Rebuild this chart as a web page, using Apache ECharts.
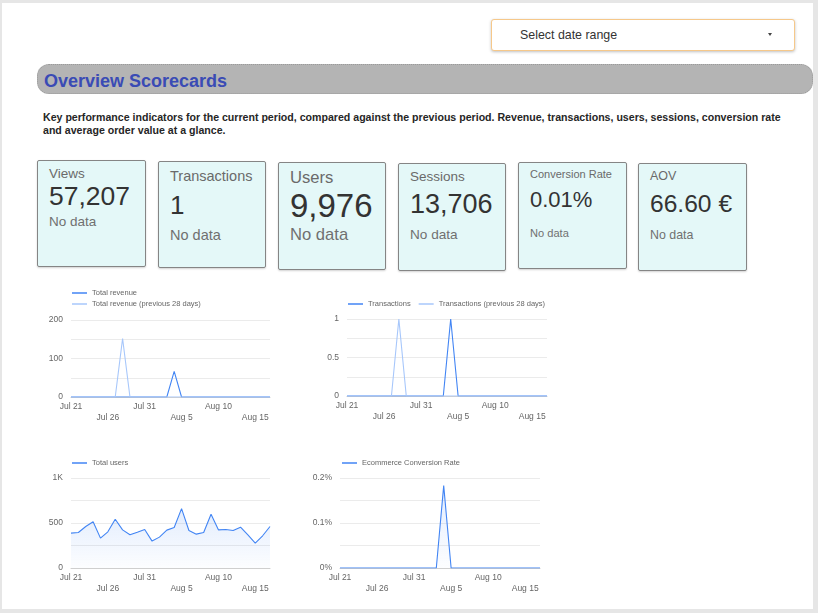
<!DOCTYPE html>
<html><head><meta charset="utf-8">
<script src="https://cdn.jsdelivr.net/npm/echarts@6/dist/echarts.min.js"></script>
<style>
html,body{margin:0;padding:0;width:818px;height:613px;overflow:hidden;background:#e6e6e6;font-family:'Liberation Sans',Arial,sans-serif;}
.abs{position:absolute;}
#page{left:2px;top:3px;width:811px;height:606px;background:#fff;}
#picker{left:491px;top:19px;width:302px;height:30px;border:1px solid #f6c88a;border-radius:3px;background:#fff;box-shadow:0 1px 3px rgba(0,0,0,0.25);}
#picker span{position:absolute;left:28px;top:8px;font-size:12.4px;color:#333;line-height:14px;}
#arrow{left:276px;top:13px;width:0;height:0;border-left:2.5px solid transparent;border-right:2.5px solid transparent;border-top:3px solid #444;}
#hdr{left:37px;top:64px;width:774px;height:28px;background:#b4b4b4;border:1px dotted #9a9a9a;border-radius:12px;}
#hdr span{position:absolute;left:6px;top:7px;font-size:18px;font-weight:bold;color:#3a4bb5;line-height:18px;}
#desc{left:43px;top:111px;font-size:10.6px;font-weight:bold;color:#262626;line-height:13px;white-space:nowrap;}
.card{background:#e4f8f8;border:1px solid #858585;border-radius:2px;box-shadow:0 1px 2px rgba(0,0,0,0.18);}
.ct{position:absolute;white-space:nowrap;}
.chart{position:absolute;}
</style></head><body>
<div id="page" class="abs"></div>
<div id="picker" class="abs"><span>Select date range</span><div id="arrow" class="abs"></div></div>
<div id="hdr" class="abs"><span>Overview Scorecards</span></div>
<div id="desc" class="abs">Key performance indicators for the current period, compared against the previous period. Revenue, transactions, users, sessions, conversion rate<br>and average order value at a glance.</div>
<div id="cards"></div>
<div id="c1" class="chart" style="left:30px;top:283px;width:250px;height:150px;"></div>
<div id="c2" class="chart" style="left:310px;top:283px;width:250px;height:150px;"></div>
<div id="c3" class="chart" style="left:30px;top:450px;width:250px;height:150px;"></div>
<div id="c4" class="chart" style="left:300px;top:450px;width:250px;height:150px;"></div>
<script>
// ---- data ----
const cardTitles = ['Views', 'Transactions', 'Users', 'Sessions', 'Conversion Rate', 'AOV'];
const cardValues = ['57,207', '1', '9,976', '13,706', '0.01%', '66.60 €'];
const cardNotes = ['No data', 'No data', 'No data', 'No data', 'No data', 'No data'];

const dates = ['Jul 21','Jul 22','Jul 23','Jul 24','Jul 25','Jul 26','Jul 27','Jul 28','Jul 29','Jul 30',
  'Jul 31','Aug 1','Aug 2','Aug 3','Aug 4','Aug 5','Aug 6','Aug 7','Aug 8','Aug 9',
  'Aug 10','Aug 11','Aug 12','Aug 13','Aug 14','Aug 15','Aug 16','Aug 17'];
const revenue = [0,0,0,0,0,0,0,0,0,0,0,0,0,0,66.6,0,0,0,0,0,0,0,0,0,0,0,0,0];
const revenuePrev = [0,0,0,0,0,0,0,152,0,0,0,0,0,0,0,0,0,0,0,0,0,0,0,0,0,0,0,0];
const transactions = [0,0,0,0,0,0,0,0,0,0,0,0,0,0,1,0,0,0,0,0,0,0,0,0,0,0,0,0];
const transactionsPrev = [0,0,0,0,0,0,0,1,0,0,0,0,0,0,0,0,0,0,0,0,0,0,0,0,0,0,0,0];
const users = [387,395,461,513,332,402,542,424,369,398,428,299,343,421,450,660,417,376,395,598,424,428,417,454,369,277,358,461];
const conversion = [0,0,0,0,0,0,0,0,0,0,0,0,0,0,0.183,0,0,0,0,0,0,0,0,0,0,0,0,0];

// ---- scorecards (layout kept separate from data) ----
const cardLayout = [
  {x:37,y:160,w:107,h:105,tx:49,t:[13.5,174],v:[26.5,196.5],n:[13.5,222]},
  {x:158,y:161,w:106,h:105,tx:170,t:[14.5,176],v:[26,205],n:[14.5,235]},
  {x:278,y:162,w:106,h:106,tx:290,t:[16.6,178.5],v:[33,205.5],n:[16.6,235.5]},
  {x:398,y:163,w:106,h:106,tx:410,t:[13.5,177],v:[27,204],n:[13.6,235]},
  {x:518,y:162,w:107,h:105,tx:530,t:[11,174],v:[22,199.5],n:[11.1,233.5]},
  {x:638,y:163,w:107,h:106,tx:650,t:[12.5,176.5],v:[24.6,204.5],n:[12.4,235]}
];
const cardsEl = document.getElementById('cards');
cardTitles.forEach((t, i) => {
  const L = cardLayout[i];
  const c = document.createElement('div');
  c.className = 'abs card';
  c.style.cssText = `left:${L.x}px;top:${L.y}px;width:${L.w}px;height:${L.h}px;`;
  cardsEl.appendChild(c);
  const parts = [[t, L.t, '#6a6a6a'], [cardValues[i], L.v, '#333'], [cardNotes[i], L.n, '#707070']];
  parts.forEach(([txt, [fs, cy], col]) => {
    const d = document.createElement('div');
    d.className = 'abs ct';
    d.textContent = txt;
    d.style.cssText = `left:${L.tx}px;top:${cy - fs / 2}px;font-size:${fs}px;line-height:${fs}px;color:${col};`;
    document.body.appendChild(d);
  });
});

// ---- charts ----
const DARK = '#4285f4', LIGHT = '#a7c7fb';
const FONT = "'Liberation Sans', Arial, sans-serif";
function xAxis() {
  return {
    type: 'category', data: dates, boundaryGap: false,
    axisTick: { show: false },
    axisLine: { lineStyle: { color: '#cfcfcf', width: 1 } },
    axisLabel: {
      interval: 4, color: '#666', fontSize: 8.5, lineHeight: 11, margin: 4, fontFamily: FONT,
      formatter: (v) => { const i = dates.indexOf(v); return (i / 5) % 2 === 1 ? '\n' + v : v; }
    }
  };
}
function yAxis(max, interval, fmt) {
  return {
    type: 'value', min: 0, max: max, interval: interval,
    axisLine: { show: false }, axisTick: { show: false },
    splitLine: { lineStyle: { color: '#ebebeb', width: 1 } },
    axisLabel: { color: '#666', fontSize: 8.5, margin: 8, fontFamily: FONT, formatter: fmt }
  };
}
function legend(extra) {
  return Object.assign({
    icon: 'rect', itemWidth: 15, itemHeight: 1.5, itemGap: 8, padding: 0,
    textStyle: { fontSize: 7.5, color: '#666', fontFamily: FONT, lineHeight: 8 },
    selectedMode: false
  }, extra);
}
function line(name, data, color, z, area) {
  const s = {
    name: name, type: 'line', data: data, symbol: 'none', z: z,
    lineStyle: { color: color, width: 1.1 }, itemStyle: { color: color }
  };
  if (area) s.areaStyle = { color: new echarts.graphic.LinearGradient(0, 0, 0, 1, [
    { offset: 0, color: 'rgba(66,133,244,0.22)' }, { offset: 1, color: 'rgba(66,133,244,0.02)' }]) };
  return s;
}

const c1 = echarts.init(document.getElementById('c1'), null, { renderer: 'canvas' });
c1.setOption({
  animation: false,
  grid: { left: 41, right: 10, top: 37, bottom: 36 },
  legend: legend({ left: 42, top: 6, orient: 'vertical', itemGap: 3,
    data: ['Total revenue', 'Total revenue (previous 28 days)'] }),
  xAxis: xAxis(),
  yAxis: yAxis(200, 50, v => (v % 100 === 0 ? String(v) : '')),
  series: [line('Total revenue', revenue, DARK, 2), line('Total revenue (previous 28 days)', revenuePrev, LIGHT, 3)]
});

const c2 = echarts.init(document.getElementById('c2'), null, { renderer: 'canvas' });
c2.setOption({
  animation: false,
  grid: { left: 37, right: 13, top: 36, bottom: 37 },
  legend: legend({ left: 38, top: 17, orient: 'horizontal',
    data: ['Transactions', 'Transactions (previous 28 days)'] }),
  xAxis: xAxis(),
  yAxis: yAxis(1, 0.25, v => (Math.abs(v * 2 - Math.round(v * 2)) < 1e-9 ? String(v) : '')),
  series: [line('Transactions', transactions, DARK, 2), line('Transactions (previous 28 days)', transactionsPrev, LIGHT, 3)]
});

const c3 = echarts.init(document.getElementById('c3'), null, { renderer: 'canvas' });
c3.setOption({
  animation: false,
  grid: { left: 41, right: 10, top: 28, bottom: 32 },
  legend: legend({ left: 42, top: 9, data: ['Total users'] }),
  xAxis: xAxis(),
  yAxis: yAxis(1000, 250, v => (v === 1000 ? '1K' : (v % 500 === 0 ? String(v) : ''))),
  series: [line('Total users', users, DARK, 2, true)]
});

const c4 = echarts.init(document.getElementById('c4'), null, { renderer: 'canvas' });
c4.setOption({
  animation: false,
  grid: { left: 40, right: 10, top: 28, bottom: 32 },
  legend: legend({ left: 42, top: 9, data: ['Ecommerce Conversion Rate'] }),
  xAxis: xAxis(),
  yAxis: yAxis(0.2, 0.05, v => (Math.abs(v * 10 - Math.round(v * 10)) < 1e-9 ? (Math.round(v * 10) / 10) + '%' : '')),
  series: [line('Ecommerce Conversion Rate', conversion, DARK, 2, true)]
});
</script>
</body></html>
